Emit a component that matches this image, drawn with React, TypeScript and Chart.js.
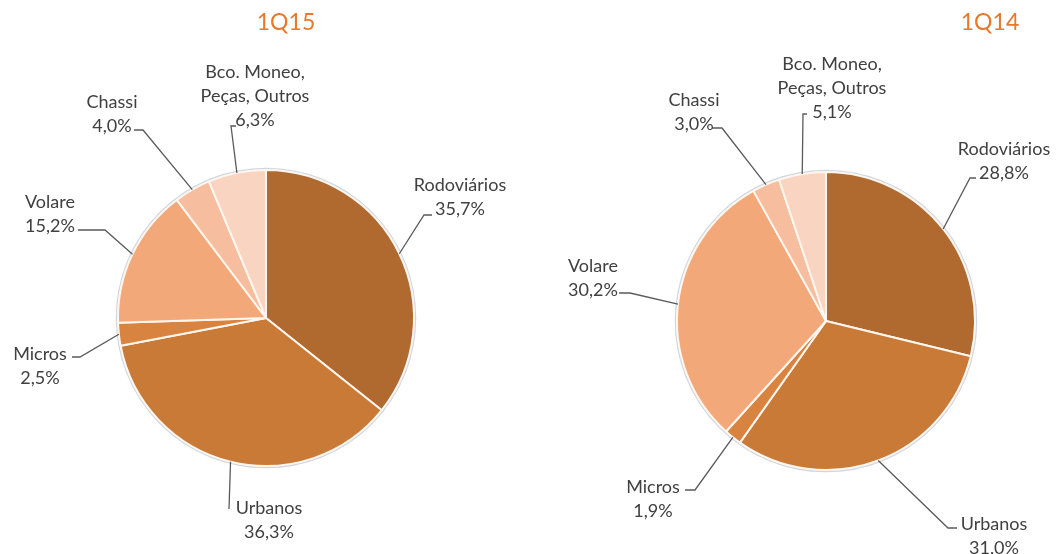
import React, { useEffect, useRef } from "react";
import { Chart, registerables } from "chart.js";

Chart.register(...registerables);

// ---- data ----
const categories: (string | string[])[] = [
  "Rodoviários",
  "Urbanos",
  "Micros",
  "Volare",
  "Chassi",
  ["Bco. Moneo,", "Peças, Outros"],
];
const values1Q15 = [35.7, 36.3, 2.5, 15.2, 4.0, 6.3];
const values1Q14 = [28.8, 31.0, 1.9, 30.2, 3.0, 5.1];
const titles = ["1Q15", "1Q14"];

// ---- styles ----
const sliceColors = ["#B0692F", "#CA7A37", "#D8833F", "#F3A87A", "#F6BE9F", "#F9D4C1"];
const FONT = "Lato, 'Open Sans', sans-serif";
const TEXT_COLOR = "#404040";
const LINE_COLOR = "#5a5a5a";
const TITLE_COLOR = "#E8782A";

// label layout relative to pie centre: text centre (first line), elbow, end of leader
type LabelPos = { tx: number; ty: number; ex: number; ey: number; fx: number; fy: number };
const layoutLeft: LabelPos[] = [
  { tx: 194, ty: -133, ex: 158, ey: -103, fx: 166, fy: -103 },
  { tx: 3, ty: 190, ex: -37, ey: 191, fx: -37, fy: 191 },
  { tx: -226, ty: 36, ex: -186, ey: 39, fx: -194, fy: 39 },
  { tx: -216, ty: -116, ex: -161, ey: -88, fx: -188, fy: -88 },
  { tx: -154, ty: -216, ex: -123, ey: -188, fx: -132, fy: -188 },
  { tx: -11, ty: -246, ex: -35, ey: -192, fx: -30, fy: -192 },
];
const layoutRight: LabelPos[] = [
  { tx: 178, ty: -172, ex: 144, ey: -143, fx: 150, fy: -143 },
  { tx: 168, ty: 203, ex: 122, ey: 207, fx: 131, fy: 207 },
  { tx: -173, ty: 166, ex: -131, ey: 169, fx: -141, fy: 169 },
  { tx: -233, ty: -55, ex: -196, ey: -28, fx: -207, fy: -28 },
  { tx: -132, ty: -221, ex: -104, ey: -193, fx: -114, fy: -193 },
  { tx: 6, ty: -257, ex: -23, ey: -207, fx: -19, fy: -207 },
];

type PieSpec = {
  values: number[];
  title: string;
  titleX: number;
  layout: LabelPos[];
  padding: { left: number; right: number; top: number; bottom: number };
};

const specs: PieSpec[] = [
  {
    values: values1Q15,
    title: titles[0],
    titleX: 286,
    layout: layoutLeft,
    padding: { left: 117, right: 115, top: 169, bottom: 87 },
  },
  {
    values: values1Q14,
    title: titles[1],
    titleX: 460,
    layout: layoutRight,
    padding: { left: 146, right: 84, top: 171, bottom: 83 },
  },
];

function fmt(v: number) {
  return v.toFixed(1).replace(".", ",") + "%";
}

function makeLabelPlugin(spec: PieSpec) {
  return {
    id: "pieLabels",
    beforeDatasetsDraw(chart: any) {
      const meta = chart.getDatasetMeta(0);
      const a0 = meta.data[0];
      if (!a0) return;
      const ctx = chart.ctx;
      ctx.save();
      ctx.beginPath();
      ctx.arc(a0.x, a0.y, a0.outerRadius + 1.5, 0, Math.PI * 2);
      ctx.strokeStyle = "rgba(170,180,195,0.55)";
      ctx.lineWidth = 1.5;
      ctx.stroke();
      ctx.restore();
    },
    afterDraw(chart: any) {
      const ctx = chart.ctx;
      const meta = chart.getDatasetMeta(0);
      ctx.save();
      // title
      ctx.font = `23px ${FONT}`;
      ctx.fillStyle = TITLE_COLOR;
      ctx.textAlign = "center";
      ctx.textBaseline = "middle";
      ctx.fillText(spec.title, spec.titleX, 23);

      meta.data.forEach((arc: any, i: number) => {
        const L = spec.layout[i];
        const cx = arc.x;
        const cy = arc.y;
        const mid = (arc.startAngle + arc.endAngle) / 2;
        const sx = cx + Math.cos(mid) * arc.outerRadius;
        const sy = cy + Math.sin(mid) * arc.outerRadius;
        ctx.beginPath();
        ctx.moveTo(sx, sy);
        ctx.lineTo(cx + L.ex, cy + L.ey);
        ctx.lineTo(cx + L.fx, cy + L.fy);
        ctx.strokeStyle = LINE_COLOR;
        ctx.lineWidth = 1.3;
        ctx.stroke();

        const cat = categories[i];
        const lines = (Array.isArray(cat) ? cat : [cat]).concat([fmt(spec.values[i])]);
        ctx.font = `18px ${FONT}`;
        ctx.fillStyle = TEXT_COLOR;
        ctx.textAlign = "center";
        ctx.textBaseline = "middle";
        lines.forEach((t, k) => {
          ctx.fillText(t, cx + L.tx, cy + L.ty + k * 24);
        });
      });
      ctx.restore();
    },
  };
}

function PieCanvas({ spec, left }: { spec: PieSpec; left: number }) {
  const ref = useRef<HTMLCanvasElement>(null);
  useEffect(() => {
    if (!ref.current) return;
    const chart = new Chart(ref.current, {
      type: "pie",
      data: {
        labels: categories.map((c) => (Array.isArray(c) ? c.join(" ") : c)),
        datasets: [
          {
            data: spec.values,
            backgroundColor: sliceColors,
            borderColor: "#FFF6EF",
            borderWidth: 2,
            hoverOffset: 0,
            offset: 0,
          },
        ],
      },
      options: {
        responsive: false,
        animation: false,
        layout: { padding: spec.padding },
        plugins: {
          legend: { display: false },
          tooltip: { enabled: false },
          title: { display: false },
        },
      },
      plugins: [makeLabelPlugin(spec)],
    });
    return () => chart.destroy();
  }, [spec]);
  return (
    <canvas
      ref={ref}
      width={530}
      height={554}
      style={{ position: "absolute", left, top: 0, width: 530, height: 554 }}
    />
  );
}

export default function App() {
  return (
    <div
      style={{
        position: "fixed",
        left: 0,
        top: 0,
        width: 1060,
        height: 554,
        background: "#ffffff",
        overflow: "hidden",
      }}
    >
      <PieCanvas spec={specs[0]} left={0} />
      <PieCanvas spec={specs[1]} left={530} />
    </div>
  );
}
